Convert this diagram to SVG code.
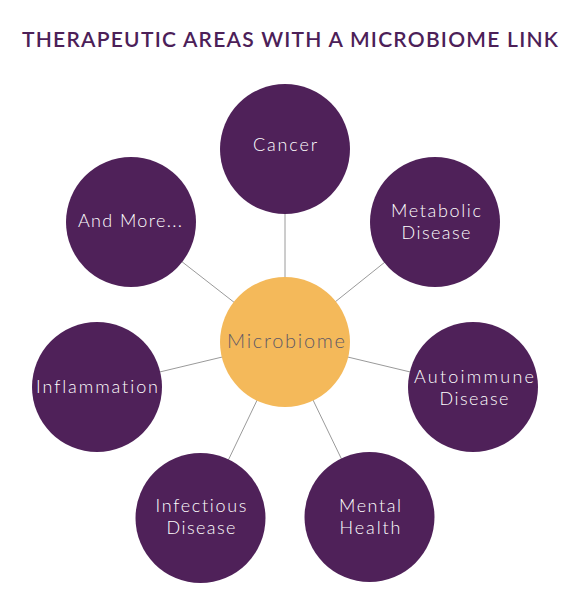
<svg xmlns="http://www.w3.org/2000/svg" width="573" height="597" viewBox="0 0 573 597">
<style>
.node{fill:#4F2159}
.lbl{font-family:Lato,"Open Sans",sans-serif;font-weight:300;font-size:18px;fill:#ffffff;text-anchor:middle;font-variant-ligatures:none}
.title{font-family:Lato,"Open Sans",sans-serif;font-size:21px;fill:#4C2058;font-weight:600;font-variant-ligatures:none}
.conn{stroke:#9a9a9a;stroke-width:1;fill:none}
</style>
<rect width="573" height="597" fill="#ffffff"/>
<text class="title" x="22" y="47" textLength="536">THERAPEUTIC AREAS WITH A MICROBIOME LINK</text>
<g id="connectors">
<line class="conn" x1="285" y1="342" x2="285" y2="149"/>
<line class="conn" x1="285" y1="342" x2="435" y2="222"/>
<line class="conn" x1="285" y1="342" x2="473" y2="387"/>
<line class="conn" x1="285" y1="342" x2="369.5" y2="517"/>
<line class="conn" x1="285" y1="342" x2="200.5" y2="518"/>
<line class="conn" x1="285" y1="342" x2="97" y2="387"/>
<line class="conn" x1="285" y1="342" x2="131" y2="222"/>
</g>
<g id="cancer"><circle class="node" cx="285" cy="149" r="65"/><text class="lbl" x="285" y="151" textLength="64">Cancer</text></g>
<g id="metabolic"><circle class="node" cx="435" cy="222" r="65"/><text class="lbl" x="436" y="217" textLength="90">Metabolic</text><text class="lbl" x="436" y="239" textLength="69">Disease</text></g>
<g id="autoimmune"><circle class="node" cx="473" cy="387" r="65"/><text class="lbl" x="474" y="383" textLength="120">Autoimmune</text><text class="lbl" x="474" y="405" textLength="69">Disease</text></g>
<g id="mental"><circle class="node" cx="369.5" cy="517" r="65"/><text class="lbl" x="370" y="512" textLength="62">Mental</text><text class="lbl" x="370" y="534" textLength="61">Health</text></g>
<g id="infectious"><circle class="node" cx="200.5" cy="518" r="65"/><text class="lbl" x="201" y="512" textLength="91">Infectious</text><text class="lbl" x="201" y="534" textLength="69">Disease</text></g>
<g id="inflammation"><circle class="node" cx="97" cy="387" r="65"/><text class="lbl" x="97" y="393" textLength="122">Inflammation</text></g>
<g id="andmore"><circle class="node" cx="131" cy="222" r="65"/><text class="lbl" x="130" y="227" textLength="104">And More...</text></g>
<g id="microbiome"><circle cx="285" cy="342" r="65" fill="#F4B95A"/><text x="286" y="348" text-anchor="middle" font-family="Lato,'Open Sans',sans-serif" font-weight="300" font-size="20" fill="#5f5a66" textLength="118">Microbiome</text></g>
</svg>
